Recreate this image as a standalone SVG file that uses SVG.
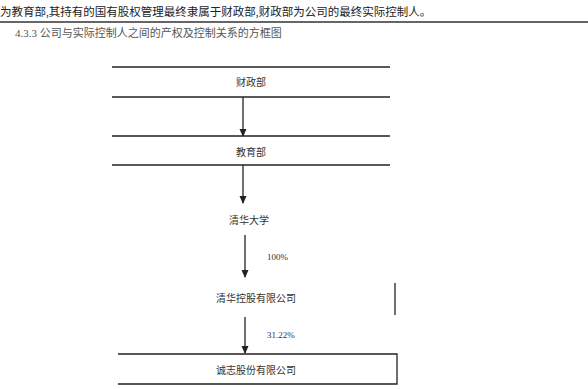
<svg xmlns="http://www.w3.org/2000/svg" width="588" height="389" viewBox="0 0 588 389">
<style>
text{font-family:"Liberation Serif","Noto Sans CJK SC",serif;}
.t{font-size:11.5px;fill:#222;}
.h{font-size:11px;fill:#555;}
.n{font-size:10px;fill:#333;text-anchor:middle;}
.l{font-size:9px;fill:#333;}
.ln{stroke:#222;stroke-width:1.3;fill:none;}
</style>
<defs>
<marker id="ah" markerWidth="8" markerHeight="8" refX="7" refY="4" orient="auto" markerUnits="userSpaceOnUse">
<path d="M0,0.5 L8,4 L0,7.5 Z" fill="#222"/>
</marker>
</defs>
<text class="t" x="0" y="16">为教育部,其持有的国有股权管理最终隶属于财政部,财政部为公司的最终实际控制人。</text>
<line x1="0" y1="22" x2="588" y2="22" stroke="#333" stroke-width="1.5"/>
<text class="h" x="15" y="37">4.3.3 公司与实际控制人之间的产权及控制关系的方框图</text>
<g id="n1">
<line class="ln" x1="112" y1="67" x2="390" y2="67"/>
<text class="n" x="251" y="86">财政部</text>
<line class="ln" x1="112" y1="97" x2="390" y2="97"/>
</g>
<g id="n2">
<line class="ln" x1="112" y1="136" x2="390" y2="136"/>
<text class="n" x="251" y="156">教育部</text>
<line class="ln" x1="112" y1="165" x2="390" y2="165"/>
</g>
<g id="n3">
<text class="n" x="249" y="224">清华大学</text>
</g>
<g id="n4">
<text class="n" x="256" y="302">清华控股有限公司</text>
<line class="ln" x1="395" y1="283" x2="395" y2="315"/>
</g>
<g id="n5">
<polyline class="ln" points="118,354 397,354 397,384 118,384"/>
<text class="n" x="256" y="374">诚志股份有限公司</text>
</g>
<g id="connectors">
<line class="ln" x1="243" y1="97" x2="243" y2="136" marker-end="url(#ah)"/>
<line class="ln" x1="243" y1="165" x2="243" y2="203" marker-end="url(#ah)"/>
<line class="ln" x1="245" y1="235" x2="245" y2="277" marker-end="url(#ah)"/>
<line class="ln" x1="245" y1="317" x2="245" y2="353" marker-end="url(#ah)"/>
<text class="l" x="267" y="260">100%</text>
<text class="l" x="267" y="338">31.22%</text>
</g>
</svg>
